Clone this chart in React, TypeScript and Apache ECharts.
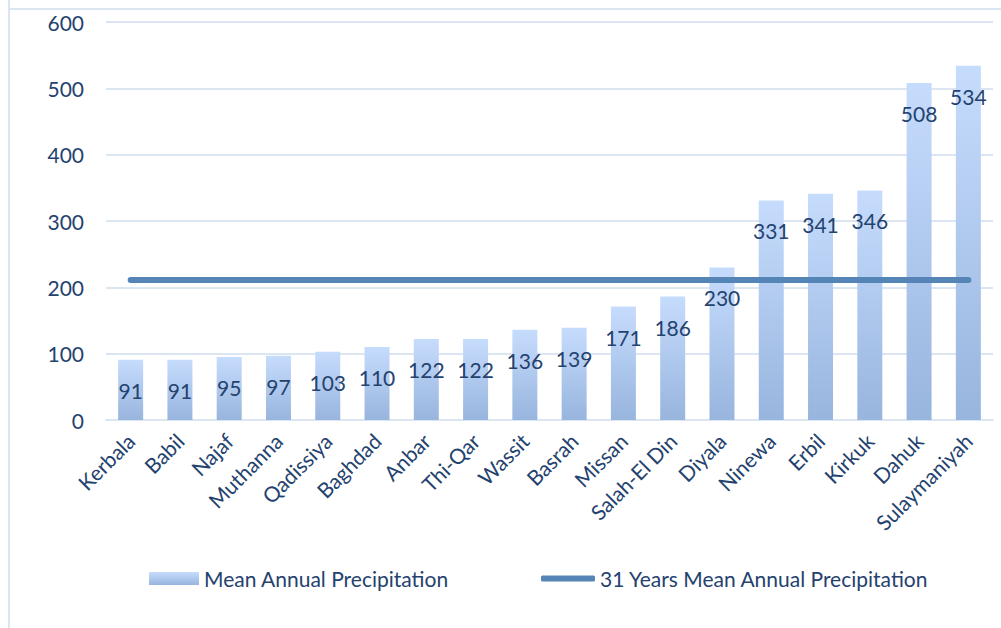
import React, { useEffect, useRef } from "react";
import * as echarts from "echarts";

const categories = [
  "Kerbala", "Babil", "Najaf", "Muthanna", "Qadissiya", "Baghdad", "Anbar", "Thi-Qar", "Wassit",
  "Basrah", "Missan", "Salah-El Din", "Diyala", "Ninewa", "Erbil", "Kirkuk", "Dahuk", "Sulaymaniyah",
];
const meanAnnual = [91, 91, 95, 97, 103, 110, 122, 122, 136, 139, 171, 186, 230, 331, 341, 346, 508, 534];
const mean31Years = [211, 211, 211, 211, 211, 211, 211, 211, 211, 211, 211, 211, 211, 211, 211, 211, 211, 211];
const yTicks = { min: 0, max: 600, interval: 100 };

const TEXT = "#24426e";
const FONT = "Lato";

export default function App() {
  const ref = useRef<HTMLDivElement>(null);
  useEffect(() => {
    document.body.style.margin = "0";
    const chart = echarts.init(ref.current!, null, { renderer: "svg" });
    chart.setOption({
      animation: false,
      textStyle: { fontFamily: FONT },
      graphic: [
        { type: "line", shape: { x1: 9, y1: 0, x2: 9, y2: 628 }, style: { stroke: "#dce6f2", lineWidth: 2 } },
        { type: "line", shape: { x1: 8, y1: 9, x2: 1001, y2: 9 }, style: { stroke: "#dce6f2", lineWidth: 2 } },
      ],
      grid: { left: 106, right: 8, top: 22, bottom: 208, containLabel: false },
      legend: [
        {
          left: 144, top: 563, itemWidth: 50, itemHeight: 13, itemGap: 5,
          data: [{ name: "Mean Annual Precipitation", icon: "rect" }],
          textStyle: { color: TEXT, fontSize: 21, fontFamily: FONT },
        },
        {
          left: 536, top: 563, itemWidth: 54, itemHeight: 6, itemGap: 5,
          data: [{ name: "31 Years Mean Annual Precipitation", icon: "roundRect" }],
          textStyle: { color: TEXT, fontSize: 21, fontFamily: FONT },
        },
      ],
      xAxis: {
        type: "category",
        data: categories,
        axisLine: { lineStyle: { color: "#dce6f2", width: 2 } },
        axisTick: { show: false },
        axisLabel: { rotate: 45, interval: 0, margin: 17, color: TEXT, fontSize: 21, fontFamily: FONT },
      },
      yAxis: {
        type: "value",
        min: yTicks.min, max: yTicks.max, interval: yTicks.interval,
        axisLine: { show: false },
        axisTick: { show: false },
        splitLine: { lineStyle: { color: "#dce6f2", width: 2 } },
        axisLabel: { margin: 22, color: TEXT, fontSize: 21, fontFamily: FONT },
      },
      series: [
        {
          name: "Mean Annual Precipitation",
          type: "bar",
          data: meanAnnual,
          barWidth: 25,
          itemStyle: {
            color: new echarts.graphic.LinearGradient(0, 0, 0, 1, [
              { offset: 0, color: "#c6dcfd" },
              { offset: 1, color: "#98b5de" },
            ]),
          },
          label: {
            show: true, position: "insideTop", distance: 20,
            color: TEXT, fontSize: 21, fontFamily: FONT,
          },
          z: 2,
        },
        {
          name: "31 Years Mean Annual Precipitation",
          type: "line",
          data: mean31Years,
          symbol: "none",
          lineStyle: { color: "#5585b6", width: 6, cap: "round" },
          itemStyle: { color: "#5585b6" },
          z: 3,
        },
      ],
    });
    return () => chart.dispose();
  }, []);
  return <div ref={ref} style={{ width: 1001, height: 628 }} />;
}
